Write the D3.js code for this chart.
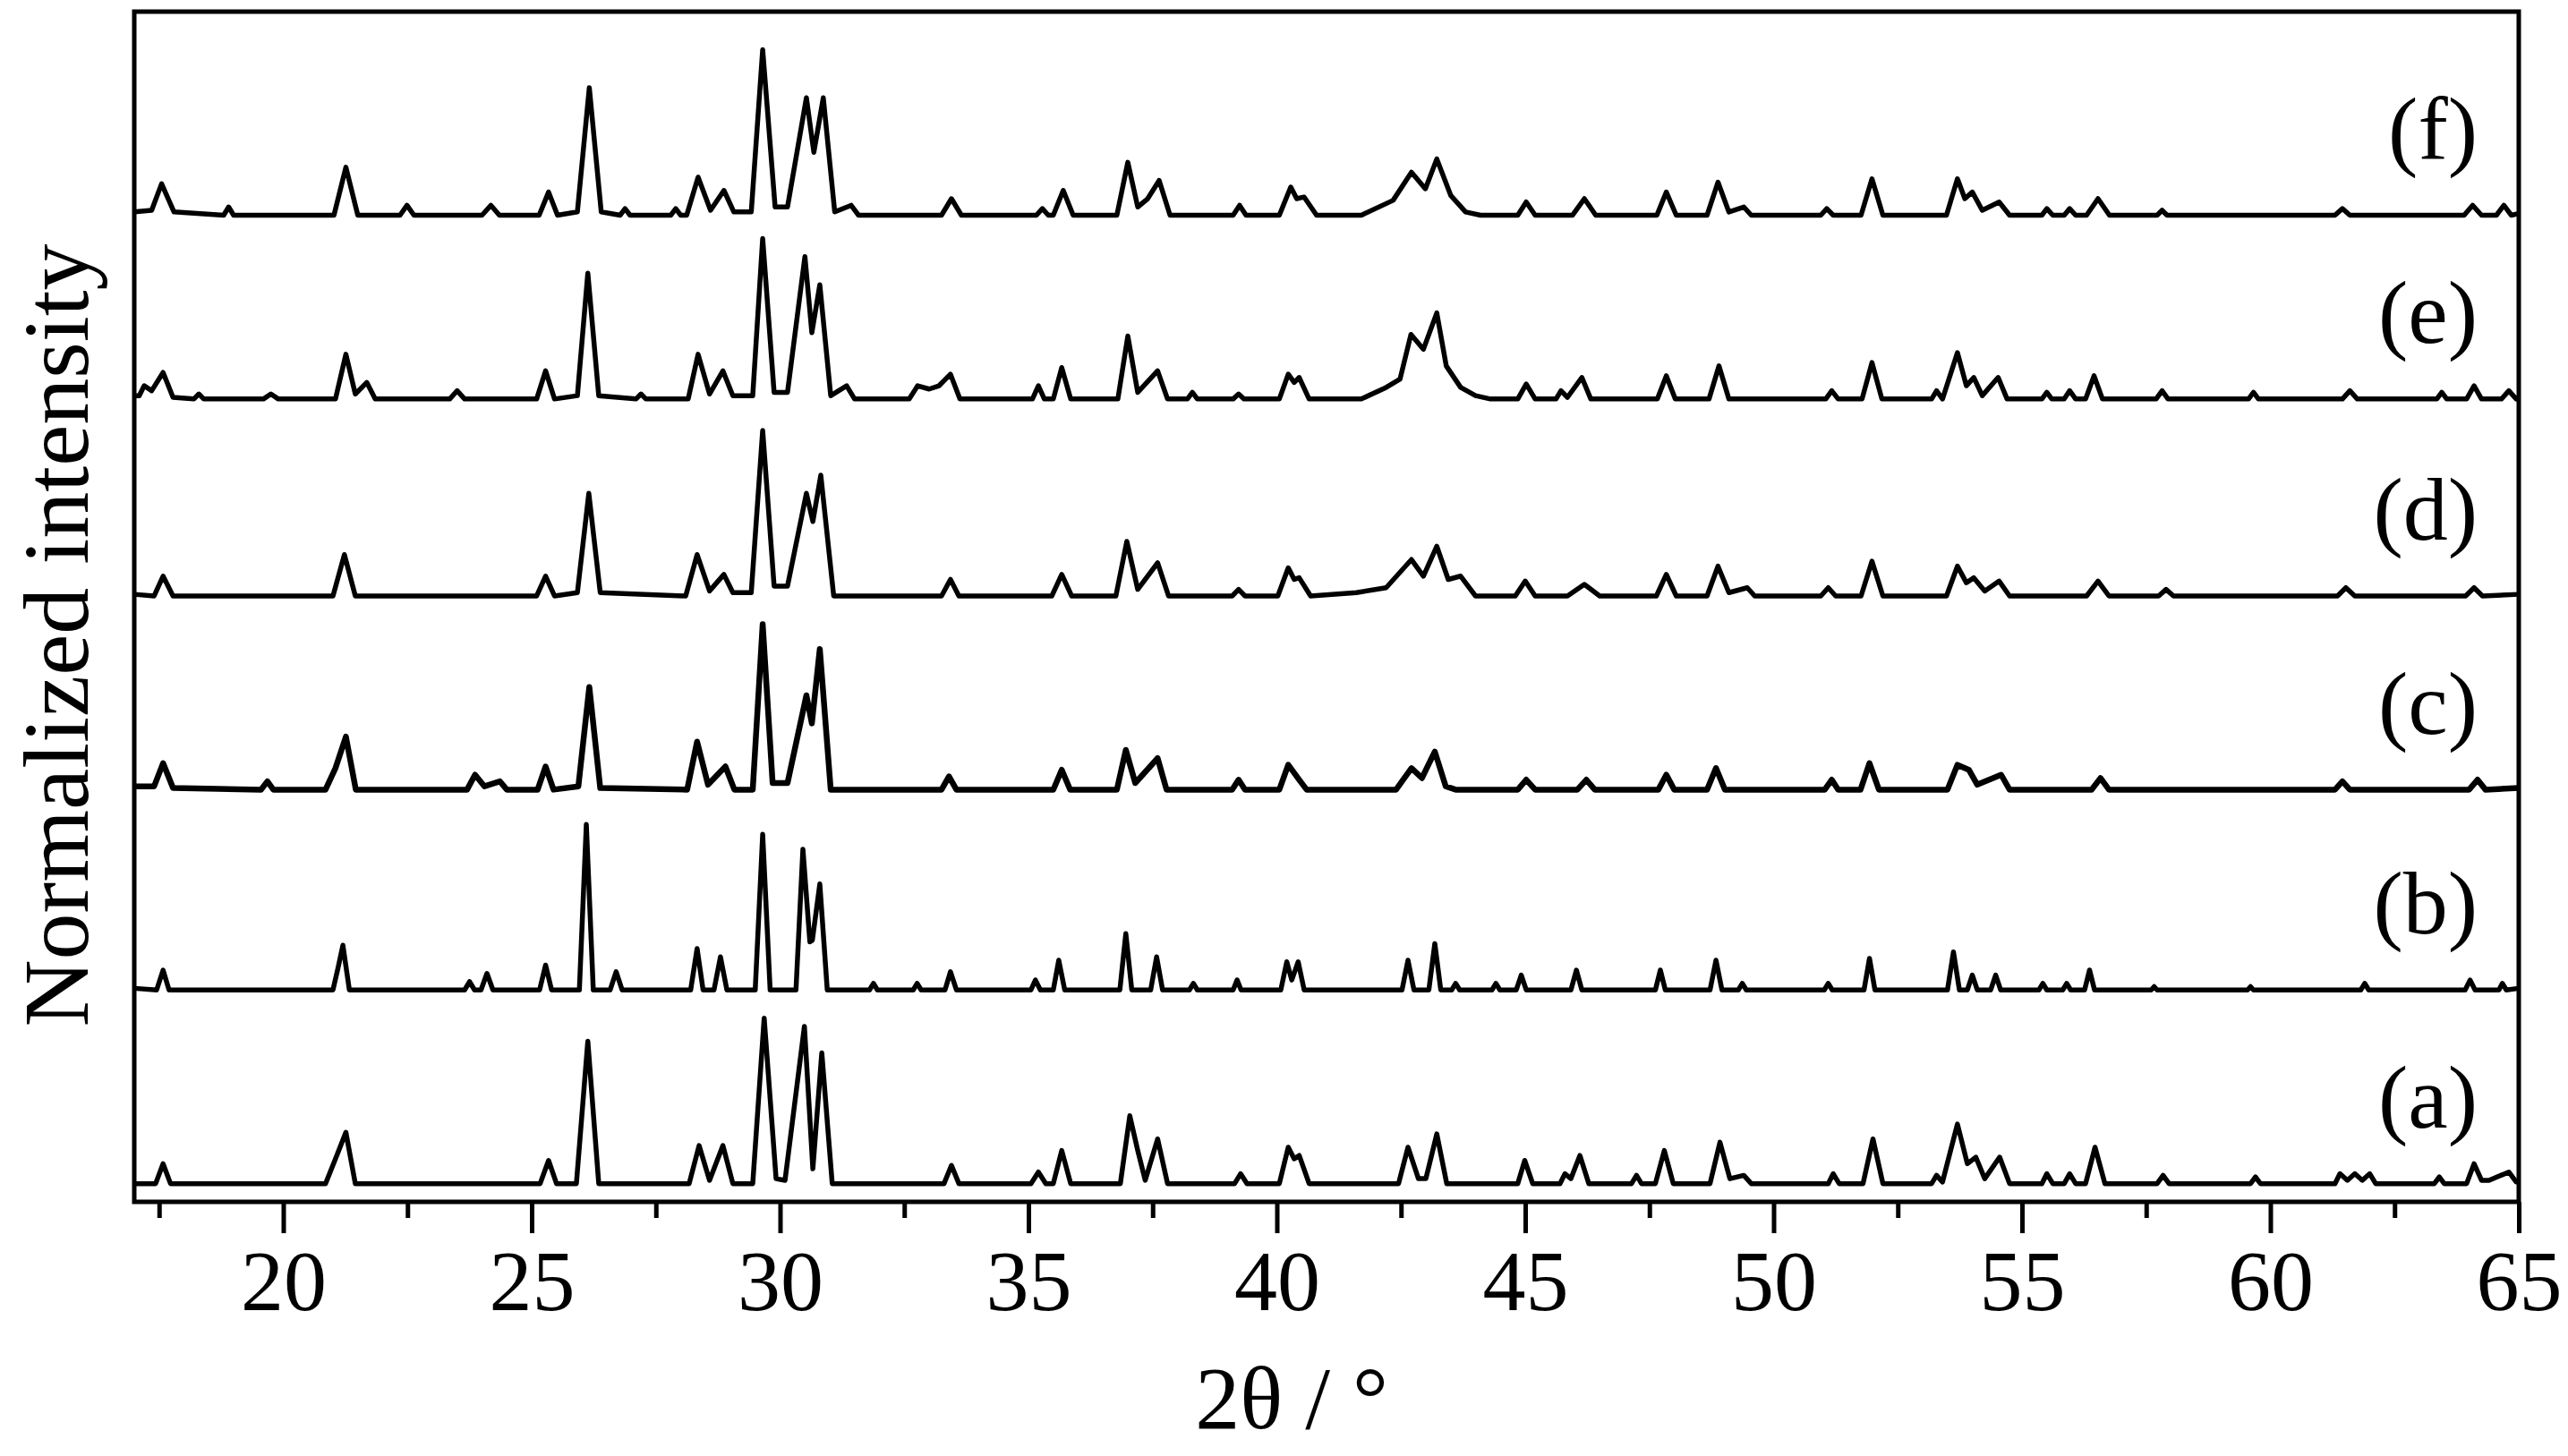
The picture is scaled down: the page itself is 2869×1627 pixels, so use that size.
<!DOCTYPE html>
<html>
<head>
<meta charset="utf-8">
<script src="https://cdn.jsdelivr.net/npm/d3@7"></script>
<style>
  body { margin: 0; background: #fff; }
  text { font-family: "Liberation Serif", "Times New Roman", serif; fill: #000; }
</style>
</head>
<body>
<div id="chart"></div>
<script>
// x ticks (2theta, degrees)
var majorTicks = [20, 25, 30, 35, 40, 45, 50, 55, 60, 65];
var minorTicks = [17.5, 22.5, 27.5, 32.5, 37.5, 42.5, 47.5, 52.5, 57.5, 62.5];

var seriesNames = ["(a)", "(b)", "(c)", "(d)", "(e)", "(f)"];
// vertical stacking offset of each pattern
var offsets = [0, 1.17, 2.38, 3.55, 4.74, 5.85];

// pattern vertices [2theta, normalized intensity]
var serA = [[17,0],[17.43,0],[17.58,0.12],[17.73,0],
  [20.85,0],[21.05,0.15],[21.26,0.31],[21.45,0],
  [25.17,0],[25.34,0.14],[25.5,0],
  [25.9,0],[26.13,0.86],[26.35,0],
  [28.17,0],[28.37,0.23],[28.58,0.02],[28.85,0.23],[29.05,0],
  [29.45,0],[29.68,1.0],[29.92,0.03],[30.1,0.02],[30.49,0.95],[30.66,0.09],[30.84,0.79],[31.05,0],
  [33.3,0],[33.45,0.11],[33.6,0],
  [35.05,0],[35.2,0.07],[35.35,0],
  [35.5,0],[35.67,0.2],[35.85,0],
  [36.85,0],[37.04,0.41],[37.2,0.2],[37.35,0.02],[37.6,0.27],[37.8,0],
  [39.15,0],[39.27,0.06],[39.4,0],
  [40.05,0],[40.23,0.22],[40.35,0.15],[40.45,0.17],[40.65,0],
  [42.45,0],[42.64,0.22],[42.85,0.03],[43.0,0.03],[43.22,0.30],[43.42,0],
  [44.85,0],[44.99,0.14],[45.15,0],
  [45.7,0],[45.8,0.06],[45.92,0.03],[46.1,0.17],[46.28,0],
  [47.14,0],[47.24,0.05],[47.34,0],
  [47.62,0],[47.8,0.2],[47.98,0],
  [48.72,0],[48.92,0.25],[49.12,0.03],[49.4,0.05],[49.55,0],
  [51.1,0],[51.2,0.06],[51.32,0],
  [51.8,0],[52.0,0.27],[52.2,0],
  [53.18,0],[53.28,0.05],[53.4,0.01],[53.7,0.36],[53.9,0.12],[54.07,0.16],[54.25,0.03],[54.55,0.16],[54.75,0],
  [55.4,0],[55.5,0.06],[55.62,0],[55.85,0],[55.96,0.06],[56.08,0],
  [56.28,0],[56.47,0.22],[56.67,0],
  [57.72,0],[57.84,0.05],[57.96,0],
  [59.6,0],[59.7,0.04],[59.8,0],
  [61.3,0],[61.4,0.06],[61.55,0.02],[61.7,0.06],[61.85,0.02],[62.0,0.06],[62.12,0],
  [63.3,0],[63.4,0.04],[63.5,0],
  [63.95,0],[64.1,0.12],[64.25,0.02],[64.4,0.02],[64.8,0.07],[64.95,0.01],[65,0.01]];

var serB = [[17,0.01],[17.45,0],[17.58,0.12],[17.7,0],
  [21.0,0],[21.1,0.13],[21.2,0.27],[21.33,0],
  [23.65,0],[23.75,0.05],[23.85,0],
  [23.98,0],[24.1,0.1],[24.22,0],
  [25.16,0],[25.28,0.15],[25.4,0],
  [25.96,0],[26.1,1.0],[26.24,0],
  [26.58,0],[26.7,0.11],[26.82,0],
  [28.2,0],[28.33,0.25],[28.45,0],
  [28.67,0],[28.8,0.2],[28.93,0],
  [29.5,0],[29.65,0.94],[29.8,0],
  [30.32,0],[30.46,0.85],[30.6,0.29],[30.65,0.3],[30.8,0.64],[30.95,0],
  [31.8,0],[31.88,0.04],[31.96,0],
  [32.68,0],[32.76,0.04],[32.84,0],
  [33.32,0],[33.43,0.11],[33.55,0],
  [35.05,0],[35.14,0.06],[35.24,0],
  [35.5,0],[35.61,0.18],[35.73,0],
  [36.84,0],[36.96,0.34],[37.08,0],
  [37.46,0],[37.58,0.2],[37.7,0],
  [38.24,0],[38.32,0.04],[38.4,0],
  [39.12,0],[39.2,0.06],[39.28,0],
  [40.08,0],[40.2,0.17],[40.3,0.06],[40.43,0.17],[40.55,0],
  [42.52,0],[42.64,0.18],[42.76,0],
  [43.06,0],[43.18,0.28],[43.3,0],
  [43.52,0],[43.6,0.04],[43.68,0],
  [44.33,0],[44.41,0.04],[44.49,0],
  [44.82,0],[44.92,0.09],[45.02,0],
  [45.92,0],[46.03,0.12],[46.14,0],
  [47.62,0],[47.72,0.12],[47.82,0],
  [48.72,0],[48.84,0.18],[48.96,0],
  [49.29,0],[49.37,0.04],[49.45,0],
  [51.02,0],[51.1,0.04],[51.18,0],
  [51.82,0],[51.93,0.19],[52.04,0],
  [53.5,0],[53.62,0.23],[53.74,0],
  [53.9,0],[54.0,0.09],[54.1,0],
  [54.37,0],[54.47,0.09],[54.57,0],
  [55.34,0],[55.42,0.04],[55.5,0],
  [55.82,0],[55.9,0.04],[55.98,0],
  [56.26,0],[56.36,0.12],[56.46,0],
  [57.6,0],[57.66,0.02],[57.72,0],
  [59.54,0],[59.6,0.02],[59.66,0],
  [61.82,0],[61.9,0.04],[61.98,0],
  [63.92,0],[64.02,0.06],[64.12,0],
  [64.6,0],[64.67,0.04],[64.75,0],[65,0.01]];

var serC = [[17,0.02],[17.4,0.02],[17.58,0.16],[17.78,0.01],
  [19.55,0],[19.68,0.05],[19.8,0],
  [20.85,0],[21.05,0.13],[21.26,0.32],[21.46,0],
  [23.7,0],[23.86,0.09],[24.05,0.02],[24.36,0.05],[24.5,0],
  [25.12,0],[25.28,0.14],[25.44,0],
  [25.94,0.02],[26.16,0.62],[26.38,0.01],
  [28.13,0],[28.33,0.29],[28.55,0.03],[28.9,0.14],[29.08,0],
  [29.45,0],[29.65,1.0],[29.85,0.04],[30.15,0.04],[30.53,0.57],[30.64,0.4],[30.8,0.85],[31.02,0],
  [33.25,0],[33.4,0.08],[33.55,0],
  [35.5,0],[35.67,0.12],[35.84,0],
  [36.78,0],[36.96,0.24],[37.15,0.04],[37.6,0.19],[37.78,0],
  [39.1,0],[39.23,0.06],[39.36,0],
  [40.05,0],[40.23,0.15],[40.45,0.06],[40.6,0],
  [42.4,0],[42.71,0.13],[42.92,0.07],[43.18,0.23],[43.4,0.02],[43.6,0],
  [44.85,0],[45.02,0.06],[45.2,0],
  [46.05,0],[46.23,0.06],[46.4,0],
  [47.68,0],[47.84,0.09],[48.0,0],
  [48.66,0],[48.84,0.13],[49.02,0],
  [51.03,0],[51.17,0.06],[51.3,0],
  [51.75,0],[51.93,0.16],[52.12,0],
  [53.5,0],[53.7,0.15],[53.93,0.12],[54.1,0.03],[54.58,0.09],[54.75,0],
  [56.4,0],[56.58,0.07],[56.75,0],
  [61.3,0],[61.45,0.05],[61.6,0],
  [64.0,0],[64.17,0.06],[64.33,0],[65,0.01]];

var serD = [[17,0.01],[17.4,0],[17.58,0.12],[17.78,0],
  [21.0,0],[21.23,0.25],[21.45,0],
  [25.1,0],[25.28,0.12],[25.46,0],
  [25.92,0.02],[26.15,0.62],[26.38,0.02],
  [28.1,0],[28.33,0.25],[28.58,0.03],[28.87,0.13],[29.05,0.02],
  [29.42,0.02],[29.65,1.0],[29.88,0.06],[30.15,0.06],[30.53,0.62],[30.66,0.45],[30.82,0.73],[31.08,0],
  [33.25,0],[33.43,0.1],[33.6,0],
  [35.47,0],[35.67,0.13],[35.87,0],
  [36.76,0],[36.98,0.33],[37.2,0.04],[37.6,0.2],[37.82,0],
  [39.1,0],[39.23,0.04],[39.36,0],
  [40.02,0],[40.23,0.17],[40.35,0.1],[40.45,0.11],[40.68,0],
  [41.6,0.02],[42.2,0.05],[42.71,0.22],[42.95,0.12],[43.22,0.30],[43.45,0.1],[43.7,0.12],[44.0,0],
  [44.8,0],[45.0,0.09],[45.2,0],
  [45.85,0],[46.19,0.07],[46.5,0],
  [47.64,0],[47.84,0.13],[48.04,0],
  [48.66,0],[48.88,0.18],[49.1,0.02],[49.47,0.05],[49.62,0],
  [50.95,0],[51.1,0.05],[51.25,0],
  [51.76,0],[51.98,0.21],[52.2,0],
  [53.48,0],[53.7,0.18],[53.88,0.08],[54.03,0.11],[54.25,0.03],[54.54,0.09],[54.75,0],
  [56.3,0],[56.53,0.09],[56.75,0],
  [57.75,0],[57.9,0.04],[58.05,0],
  [61.35,0],[61.52,0.05],[61.7,0],
  [63.93,0],[64.1,0.05],[64.27,0],[65,0.01]];

var serE = [[17,0.02],[17.1,0.02],[17.2,0.08],[17.35,0.05],[17.58,0.16],[17.78,0.01],
  [18.2,0],[18.3,0.03],[18.4,0],
  [19.6,0],[19.75,0.03],[19.9,0],
  [21.05,0],[21.26,0.27],[21.45,0.03],[21.68,0.1],[21.85,0],
  [23.35,0],[23.5,0.05],[23.65,0],
  [25.1,0],[25.28,0.17],[25.46,0],
  [25.92,0.02],[26.13,0.76],[26.35,0.02],
  [27.1,0],[27.2,0.03],[27.3,0],
  [28.15,0],[28.35,0.27],[28.58,0.03],[28.85,0.17],[29.05,0.02],
  [29.45,0.02],[29.65,0.97],[29.88,0.04],[30.15,0.04],[30.5,0.86],[30.64,0.40],[30.8,0.69],[31.02,0.02],[31.34,0.08],[31.5,0],
  [32.6,0],[32.77,0.08],[33.0,0.06],[33.2,0.08],[33.43,0.15],[33.62,0],
  [35.08,0],[35.2,0.08],[35.32,0],
  [35.5,0],[35.67,0.19],[35.85,0],
  [36.8,0],[37.0,0.38],[37.2,0.04],[37.6,0.17],[37.8,0],
  [38.2,0],[38.3,0.04],[38.4,0],
  [39.12,0],[39.23,0.03],[39.34,0],
  [40.05,0],[40.23,0.15],[40.35,0.1],[40.45,0.13],[40.65,0],
  [41.7,0],[42.2,0.07],[42.48,0.12],[42.7,0.39],[42.95,0.30],[43.22,0.52],[43.41,0.2],[43.7,0.07],[44.0,0.02],[44.3,0],
  [44.85,0],[45.02,0.09],[45.2,0],
  [45.62,0],[45.72,0.05],[45.85,0.01],[46.14,0.13],[46.32,0],
  [47.66,0],[47.84,0.14],[48.02,0],
  [48.7,0],[48.9,0.2],[49.1,0],
  [51.05,0],[51.17,0.05],[51.3,0],
  [51.78,0],[51.98,0.22],[52.18,0],
  [53.18,0],[53.28,0.05],[53.4,0],[53.7,0.28],[53.88,0.08],[54.03,0.13],[54.2,0.02],[54.52,0.13],[54.7,0],
  [55.4,0],[55.5,0.04],[55.6,0],[55.85,0],[55.96,0.05],[56.08,0],
  [56.28,0],[56.45,0.14],[56.62,0],
  [57.7,0],[57.82,0.05],[57.94,0],
  [59.56,0],[59.66,0.04],[59.76,0],
  [61.45,0],[61.6,0.05],[61.75,0],
  [63.35,0],[63.45,0.04],[63.55,0],
  [63.95,0],[64.1,0.08],[64.25,0],[64.65,0],[64.8,0.05],[64.95,0],[65,0.01]];

var serF = [[17,0.02],[17.35,0.03],[17.55,0.19],[17.8,0.02],
  [18.8,0],[18.9,0.05],[19.0,0],
  [21.02,0],[21.26,0.29],[21.5,0],
  [22.35,0],[22.49,0.06],[22.63,0],
  [24.0,0],[24.18,0.06],[24.35,0],
  [25.15,0],[25.34,0.14],[25.52,0],
  [25.92,0.02],[26.16,0.77],[26.4,0.02],
  [26.78,0],[26.88,0.04],[26.98,0],
  [27.8,0],[27.9,0.04],[28.0,0],
  [28.12,0],[28.35,0.23],[28.6,0.03],[28.87,0.15],[29.07,0.02],
  [29.42,0.02],[29.65,1.0],[29.9,0.05],[30.15,0.05],[30.53,0.71],[30.68,0.38],[30.87,0.71],[31.1,0.02],[31.43,0.06],[31.58,0],
  [33.25,0],[33.45,0.1],[33.65,0],
  [35.16,0],[35.28,0.04],[35.4,0],
  [35.5,0],[35.7,0.15],[35.9,0],
  [36.78,0],[37.0,0.32],[37.2,0.05],[37.4,0.1],[37.63,0.21],[37.85,0],
  [39.12,0],[39.25,0.06],[39.38,0],
  [40.05,0],[40.28,0.17],[40.4,0.1],[40.55,0.11],[40.8,0],
  [41.7,0],[42.34,0.09],[42.71,0.26],[42.99,0.16],[43.22,0.34],[43.5,0.12],[43.8,0.02],[44.1,0],
  [44.85,0],[45.02,0.08],[45.2,0],
  [45.95,0],[46.19,0.1],[46.42,0],
  [47.65,0],[47.84,0.14],[48.04,0],
  [48.66,0],[48.88,0.2],[49.1,0.02],[49.4,0.05],[49.55,0],
  [50.95,0],[51.07,0.04],[51.2,0],
  [51.76,0],[51.98,0.22],[52.2,0],
  [53.48,0],[53.7,0.22],[53.85,0.1],[54.0,0.14],[54.2,0.03],[54.54,0.08],[54.75,0],
  [55.4,0],[55.5,0.04],[55.62,0],[55.85,0],[55.96,0.04],[56.08,0],
  [56.3,0],[56.53,0.1],[56.76,0],
  [57.72,0],[57.82,0.03],[57.92,0],
  [61.3,0],[61.45,0.04],[61.6,0],
  [63.9,0],[64.07,0.06],[64.25,0],[64.55,0],[64.7,0.06],[64.85,0],[65,0.01]];

var allSeries = [serA, serB, serC, serD, serE, serF];

///////////////////////////////////////

var W = 2869, H = 1627;
var margin = {left: 150, top: 13, right: 55, bottom: 284};
var width = W - margin.left - margin.right,
    height = H - margin.top - margin.bottom;

var svg = d3.select("#chart").append("svg")
    .attr("width", W)
    .attr("height", H);

var x = d3.scaleLinear().domain([17, 65]).range([0, width]);
var y = d3.scaleLinear().domain([-0.11, 7.08]).range([height, 0]);

var g = svg.append("g")
    .attr("transform", "translate(" + margin.left + "," + margin.top + ")");

var line = d3.line()
    .x(function(d) { return x(d[0]); })
    .y(function(d) { return y(d[1]); });

g.selectAll(".pattern")
    .data(allSeries)
  .enter().append("path")
    .attr("class", "pattern")
    .attr("d", function(d, i) {
      return line(d.map(function(p) { return [p[0], p[1] + offsets[i]]; }));
    })
    .attr("fill", "none")
    .attr("stroke", "#000")
    .attr("stroke-width", function(d, i) { return i == 2 ? 6.5 : 5.5; })
    .attr("stroke-linejoin", "round");

g.selectAll(".plabel")
    .data(seriesNames)
  .enter().append("text")
    .attr("class", "plabel")
    .attr("x", width - 46)
    .attr("y", function(d, i) { return y(offsets[i] + 0.34); })
    .attr("text-anchor", "end")
    .style("font-size", "100px")
    .text(function(d) { return d; });

// minor ticks
g.append("g")
    .attr("transform", "translate(0," + height + ")")
    .call(d3.axisBottom(x).tickValues(minorTicks).tickSize(18).tickFormat(""))
    .call(function(s) { s.select(".domain").remove(); })
    .selectAll("line").attr("stroke-width", 5);

// major ticks + labels
var xAxis = g.append("g")
    .attr("transform", "translate(0," + height + ")")
    .call(d3.axisBottom(x).tickValues(majorTicks).tickSize(35).tickPadding(18));
xAxis.select(".domain").remove();
xAxis.selectAll("line").attr("stroke-width", 5);
xAxis.selectAll("text")
    .style("font-size", "96px")
    .style("font-family", "'Liberation Serif', 'Times New Roman', serif");

// frame
g.append("rect")
    .attr("width", width)
    .attr("height", height)
    .attr("fill", "none")
    .attr("stroke", "#000")
    .attr("stroke-width", 5);

svg.append("text")
    .attr("x", margin.left + x(40.3))
    .attr("y", 1596)
    .attr("text-anchor", "middle")
    .style("font-size", "100px")
    .text("2θ / °");

svg.append("text")
    .attr("transform", "translate(98," + 710 + ") rotate(-90)")
    .attr("text-anchor", "middle")
    .style("font-size", "104px")
    .text("Normalized intensity");
</script>
</body>
</html>
